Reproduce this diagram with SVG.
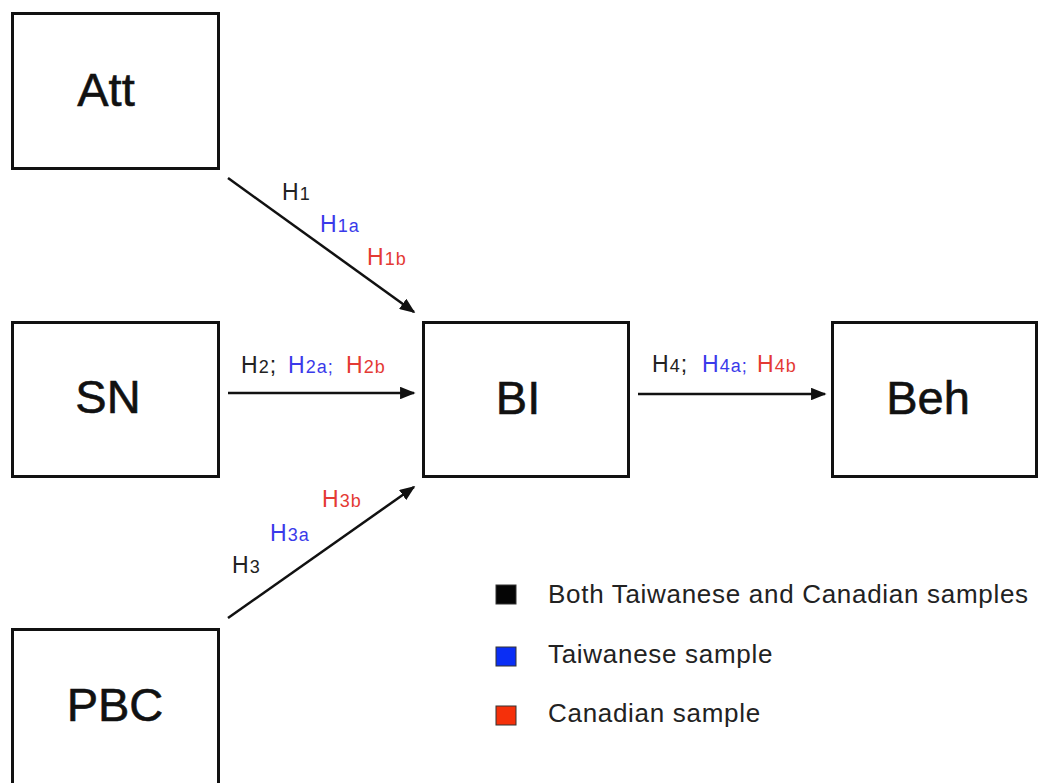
<svg xmlns="http://www.w3.org/2000/svg" width="1038" height="783" viewBox="0 0 1038 783">
  <style>
    .box { fill: #ffffff; stroke: #111111; stroke-width: 3; }
    .node-label { font-family: "Liberation Sans", Arial, sans-serif; font-size: 47px; fill: #111111; stroke: #111111; stroke-width: 0.6; text-anchor: middle; }
    .edge { stroke: #111111; stroke-width: 2.5; fill: none; marker-end: url(#arrow); }
    .hyp { font-family: "Liberation Sans", Arial, sans-serif; font-size: 23px; letter-spacing: 1px; }
    .sub { font-size: 18px; }
    .k { fill: #222222; }
    .b { fill: #3a3aea; }
    .r { fill: #e43a34; }
    .legend-text { font-family: "Liberation Sans", Arial, sans-serif; font-size: 26px; fill: #222222; letter-spacing: 0.7px; }
  </style>
  <defs>
    <marker id="arrow" viewBox="0 0 10 10" refX="9" refY="5" markerWidth="6.2" markerHeight="5" markerUnits="strokeWidth" orient="auto" preserveAspectRatio="none">
      <path d="M0,0 L10,5 L0,10 Z" fill="#111111"/>
    </marker>
  </defs>

  <rect width="1038" height="783" fill="#ffffff"/>

  <!-- Nodes -->
  <g id="node-att">
    <rect class="box" x="12.5" y="13.5" width="206" height="155"/>
    <text class="node-label" x="106" y="106">Att</text>
  </g>
  <g id="node-sn">
    <rect class="box" x="12.5" y="322.5" width="206" height="154"/>
    <text class="node-label" x="108" y="413">SN</text>
  </g>
  <g id="node-pbc">
    <rect class="box" x="12.5" y="629.5" width="206" height="170"/>
    <text class="node-label" x="115" y="721">PBC</text>
  </g>
  <g id="node-bi">
    <rect class="box" x="423.5" y="322.5" width="205" height="154"/>
    <text class="node-label" x="518" y="414">BI</text>
  </g>
  <g id="node-beh">
    <rect class="box" x="832.5" y="322.5" width="204" height="154"/>
    <text class="node-label" x="928" y="414">Beh</text>
  </g>

  <!-- Connectors -->
  <g id="connectors">
    <line class="edge" x1="228" y1="178" x2="414" y2="312"/>
    <line class="edge" x1="228" y1="393" x2="414" y2="393"/>
    <line class="edge" x1="228" y1="618" x2="414" y2="487"/>
    <line class="edge" x1="638" y1="394" x2="825" y2="394"/>
  </g>

  <!-- Hypothesis labels -->
  <g id="labels">
    <text class="hyp k" x="282" y="200">H<tspan class="sub">1</tspan></text>
    <text class="hyp b" x="320" y="232">H<tspan class="sub">1a</tspan></text>
    <text class="hyp r" x="367" y="265">H<tspan class="sub">1b</tspan></text>

    <text class="hyp" y="373"><tspan class="k" x="241">H<tspan class="sub">2</tspan>;</tspan><tspan class="b" x="288">H<tspan class="sub">2a;</tspan></tspan><tspan class="r" x="346">H<tspan class="sub">2b</tspan></tspan></text>

    <text class="hyp k" x="232" y="573">H<tspan class="sub">3</tspan></text>
    <text class="hyp b" x="270" y="541">H<tspan class="sub">3a</tspan></text>
    <text class="hyp r" x="322" y="507">H<tspan class="sub">3b</tspan></text>

    <text class="hyp" y="372"><tspan class="k" x="652">H<tspan class="sub">4</tspan>;</tspan><tspan class="b" x="702">H<tspan class="sub">4a;</tspan></tspan><tspan class="r" x="757">H<tspan class="sub">4b</tspan></tspan></text>
  </g>

  <!-- Legend -->
  <g id="legend">
    <rect x="496" y="585" width="20" height="19" fill="#050505" stroke="#333333" stroke-width="1"/>
    <text class="legend-text" x="548" y="603">Both Taiwanese and Canadian samples</text>
    <rect x="496" y="647" width="20" height="19" fill="#0a2ef5" stroke="#333333" stroke-width="1"/>
    <text class="legend-text" x="548" y="663">Taiwanese sample</text>
    <rect x="496" y="706" width="20" height="19" fill="#f5300a" stroke="#333333" stroke-width="1"/>
    <text class="legend-text" x="548" y="722">Canadian sample</text>
  </g>
</svg>
